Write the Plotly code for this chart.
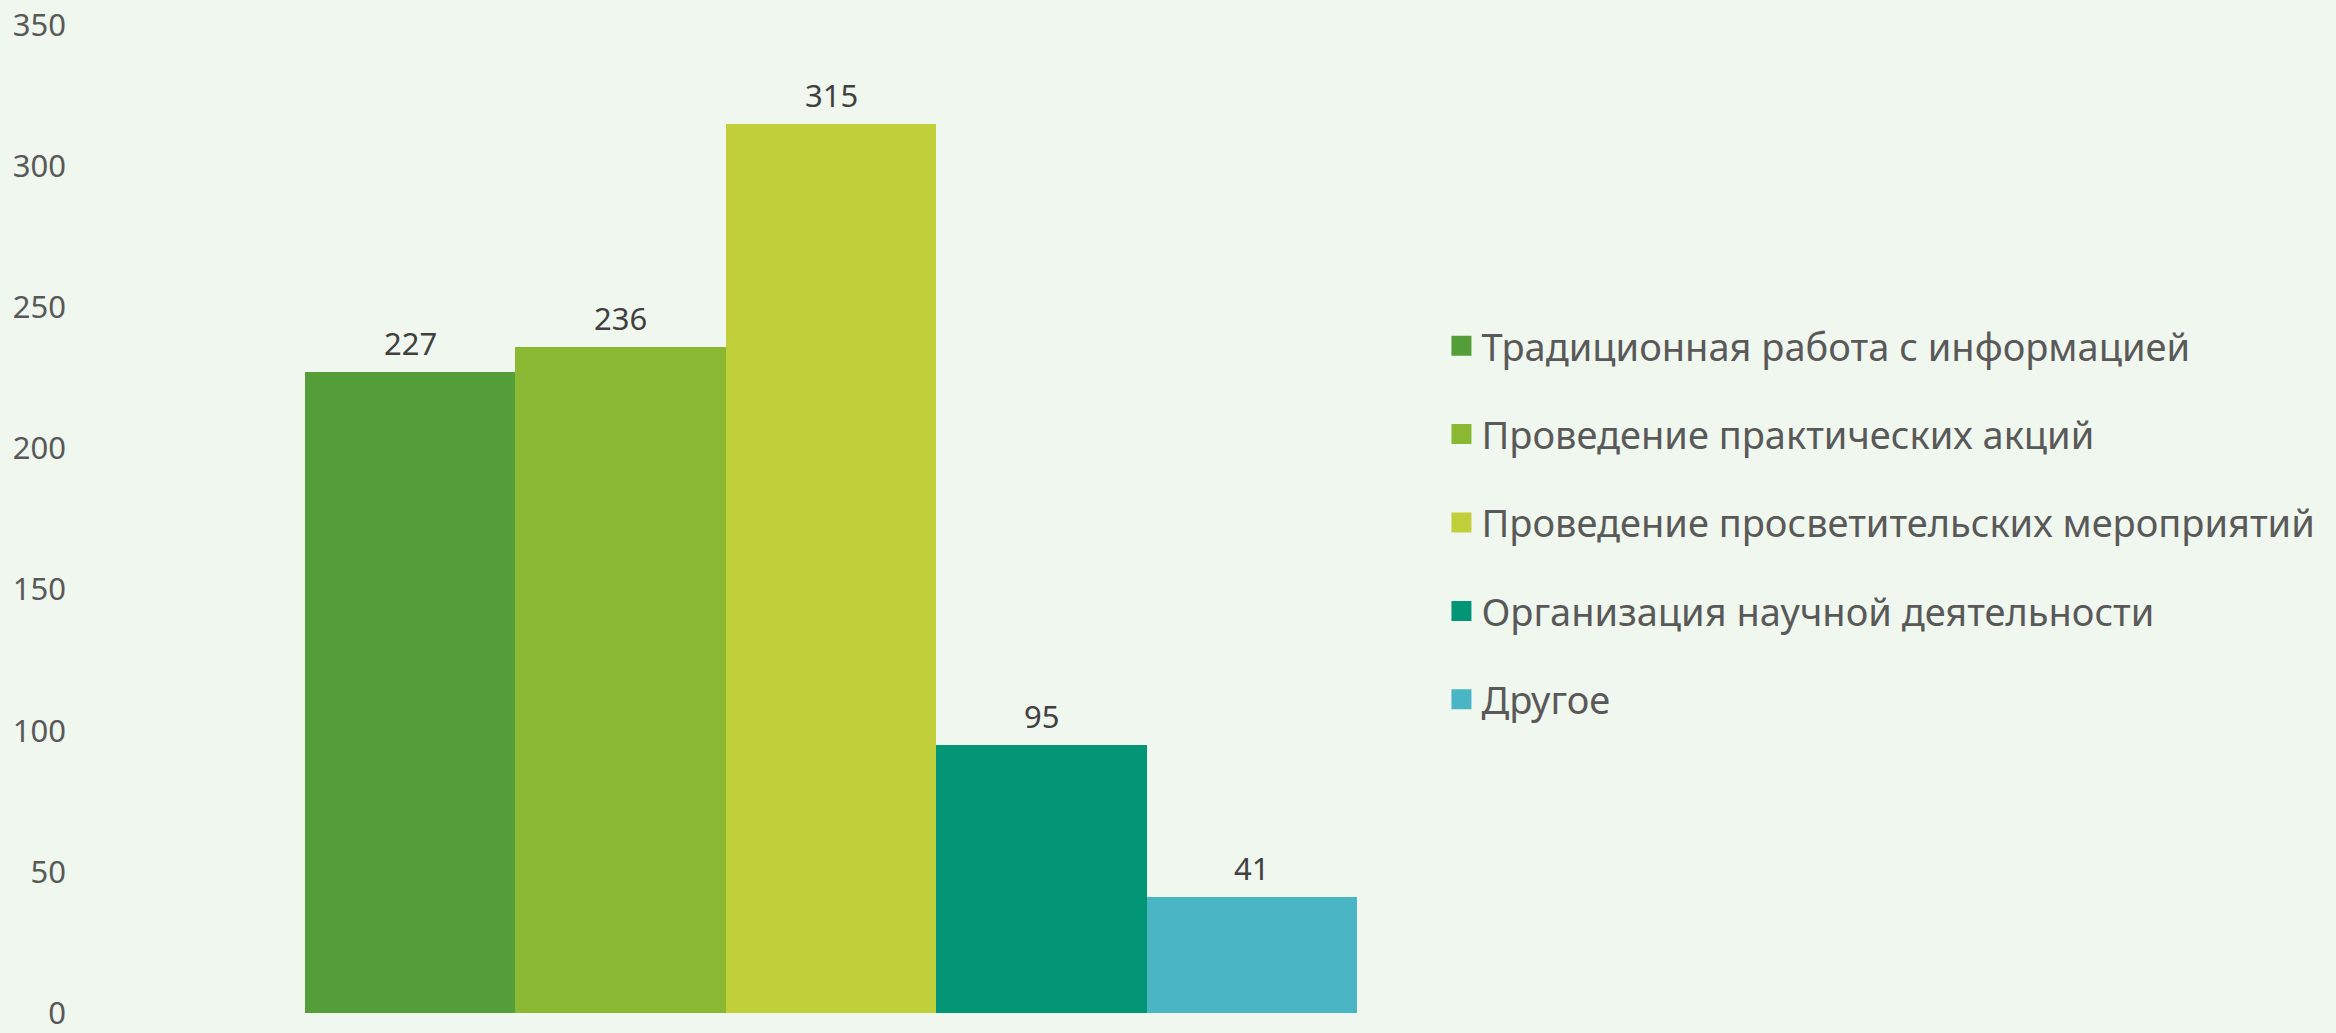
import plotly.graph_objects as go

CATEGORIES = [
    'Традиционная работа с информацией',
    'Проведение практических акций',
    'Проведение просветительских мероприятий',
    'Организация научной деятельности',
    'Другое',
]
VALUES = [227, 236, 315, 95, 41]
COLORS = ['#549E39', '#8AB833', '#C0CF3A', '#029676', '#4AB5C4']
Y_TICKS = [0, 50, 100, 150, 200, 250, 300, 350]

BG = '#F0F7EE'
FONT = 'Noto Sans'

fig = go.Figure()

for idx, (name, value, color) in enumerate(zip(CATEGORIES, VALUES, COLORS)):
    fig.add_trace(go.Bar(
        x=[name],
        y=[value],
        marker=dict(color=color, line=dict(width=0)),
        width=1.0,
        showlegend=False,
        hoverinfo='y',
    ))
    # legend-only entry so the swatch can be a bit larger than the bar default
    fig.add_trace(go.Scatter(
        x=[None],
        y=[None],
        mode='markers',
        name=name,
        legendgroup=str(idx),
        marker=dict(symbol='square', size=16, color=color,
                    line=dict(width=4, color=color)),
    ))
    fig.add_annotation(
        x=name,
        y=value,
        text=str(value),
        showarrow=False,
        yanchor='middle',
        yshift=29,
        font=dict(family=FONT, size=31, color='#404040'),
    )

fig.update_layout(
    width=2336,
    height=1033,
    paper_bgcolor=BG,
    plot_bgcolor=BG,
    margin=dict(l=80, r=916, t=25, b=20, autoexpand=False),
    barmode='overlay',
    bargap=0,
    font=dict(family=FONT, color='#595959'),
    legend=dict(
        x=1.016,
        xanchor='left',
        y=0.707,
        yanchor='top',
        font=dict(family=FONT, size=38, color='#595959'),
        tracegroupgap=36,
        itemwidth=30,
        bgcolor='rgba(0,0,0,0)',
    ),
    xaxis=dict(
        type='category',
        range=[-1.569, 4.799],
        showticklabels=False,
        showgrid=False,
        zeroline=False,
        showline=False,
        ticks='',
        automargin=False,
    ),
    yaxis=dict(
        range=[0, 350],
        tickvals=Y_TICKS,
        showgrid=False,
        zeroline=False,
        showline=False,
        ticks='',
        automargin=False,
        ticklabelstandoff=13,
        ticklabeloverflow='allow',
        tickfont=dict(family=FONT, size=31, color='#595959'),
    ),
)

fig.write_html('out.html', config={'displayModeBar': False},
               post_script="document.body.style.margin='0';")
